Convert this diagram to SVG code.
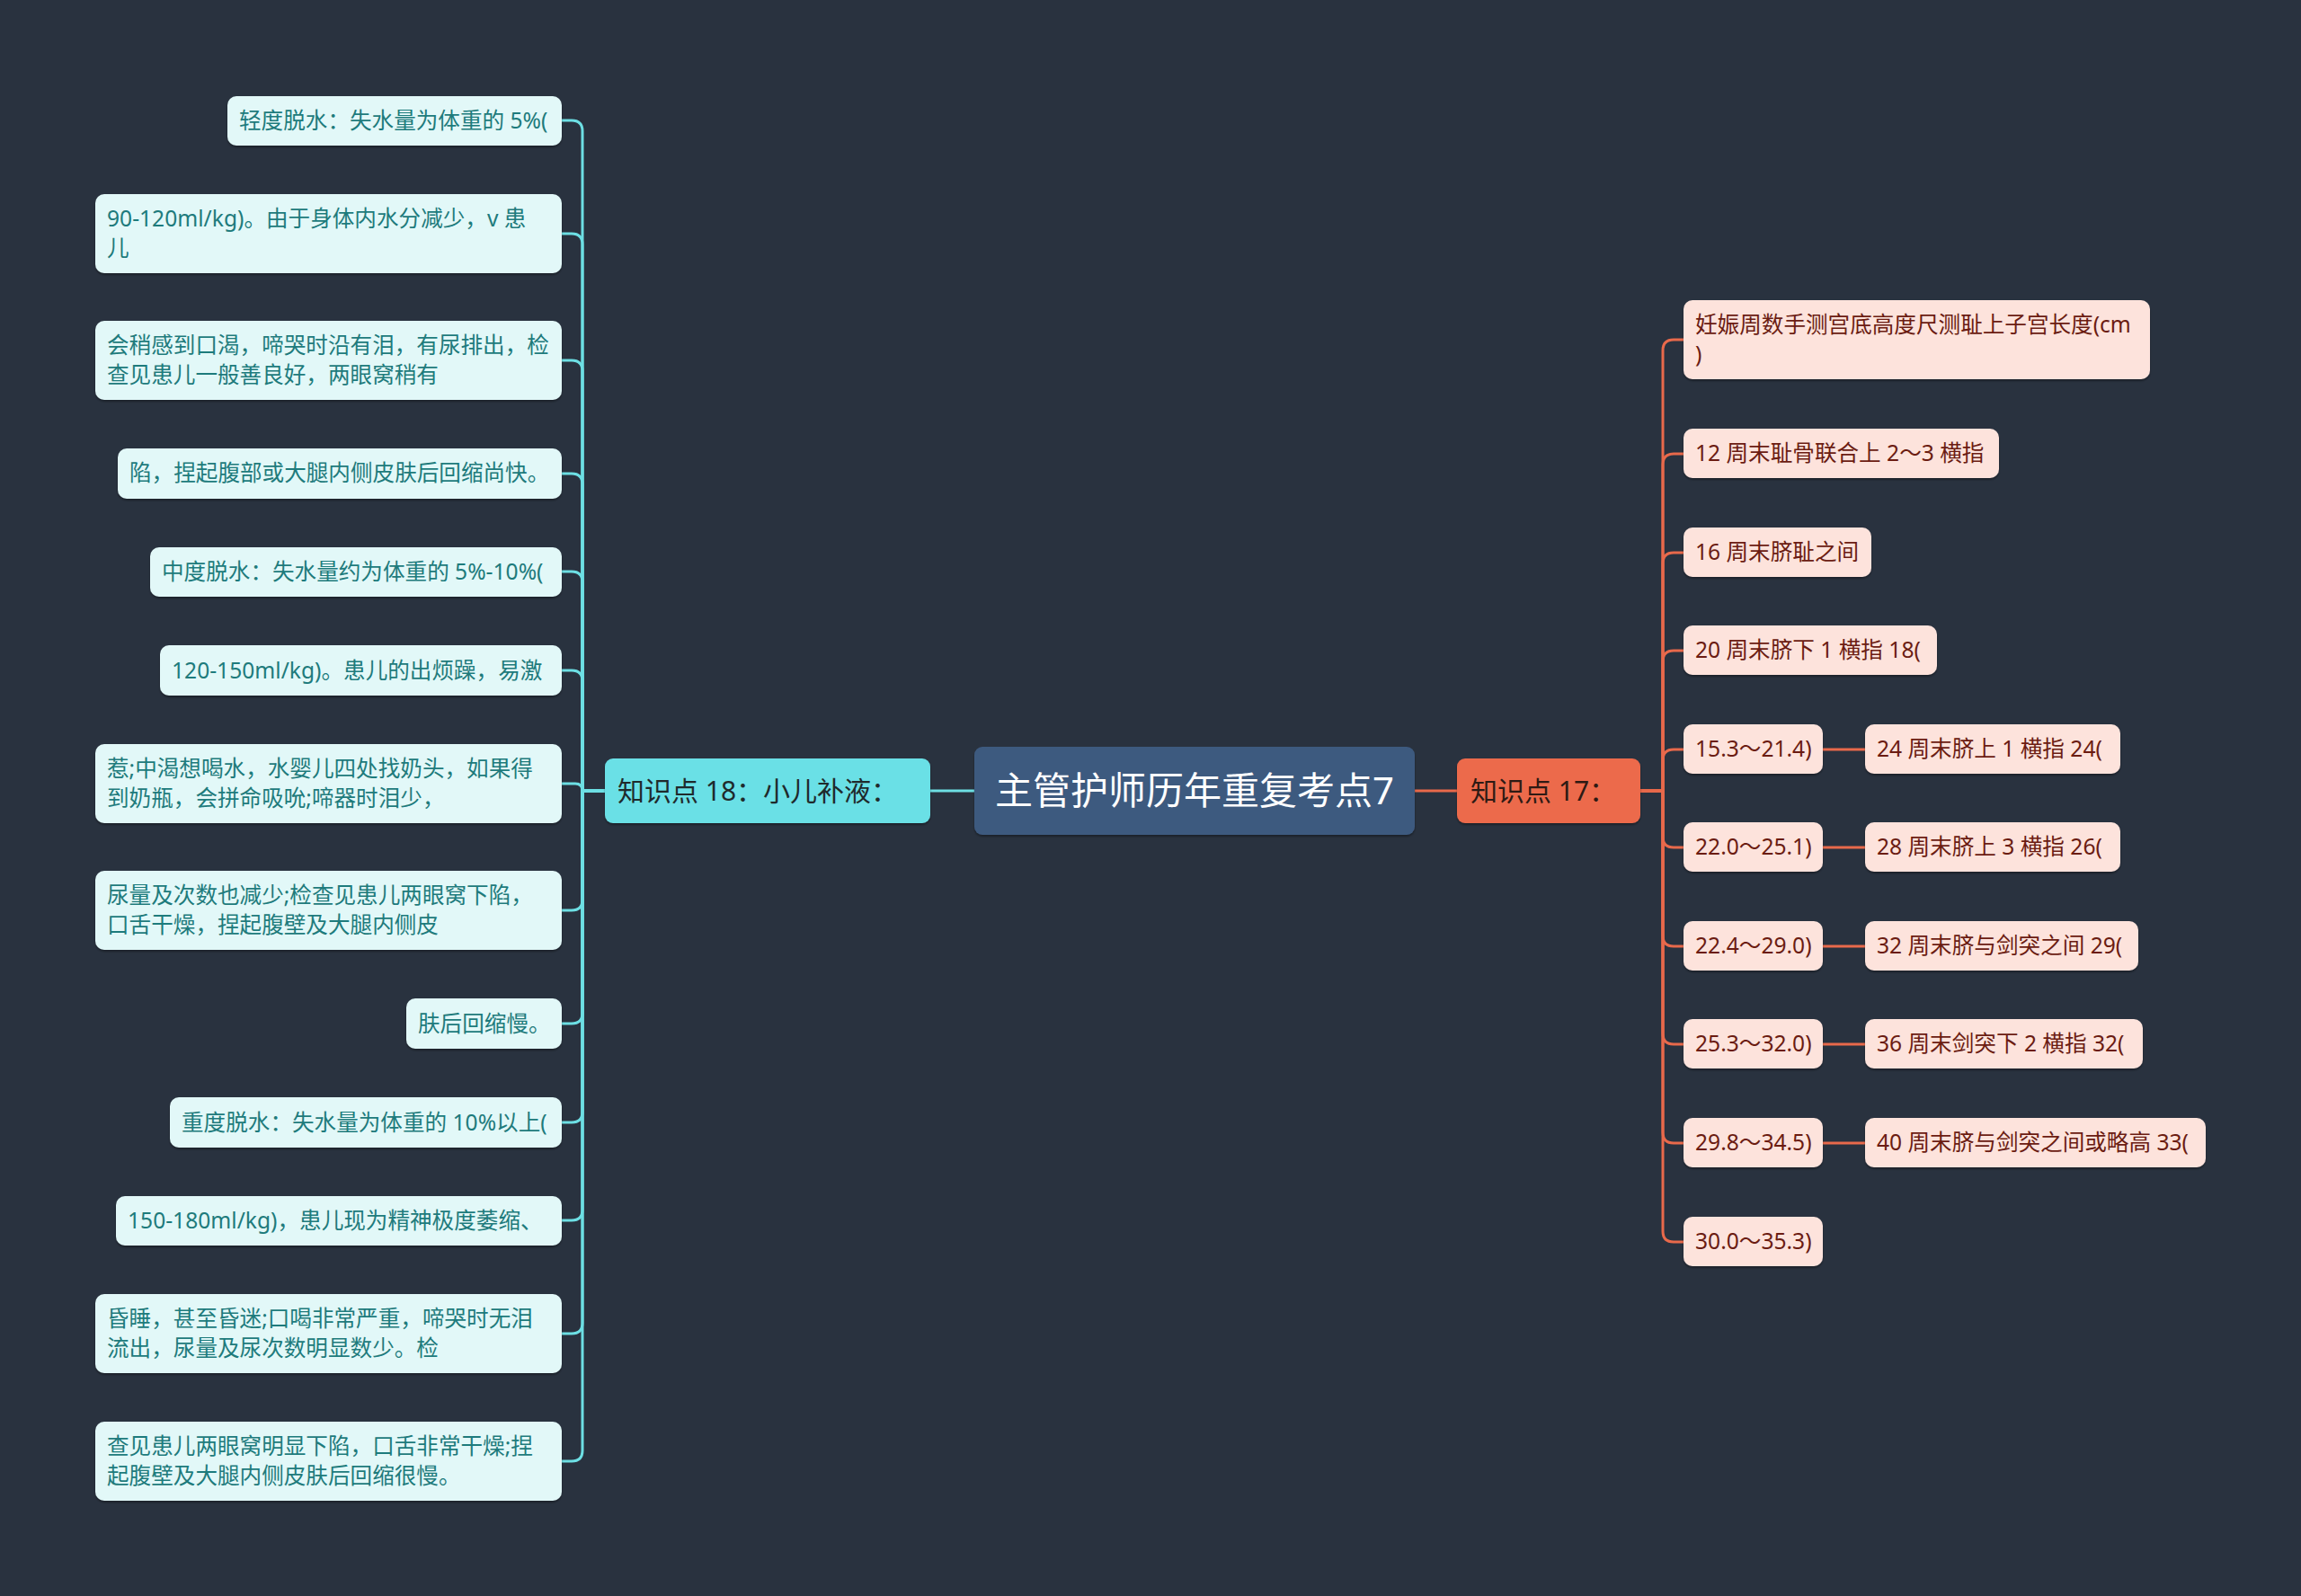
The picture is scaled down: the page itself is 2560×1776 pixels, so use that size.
<svg xmlns="http://www.w3.org/2000/svg" width="2560" height="1776" viewBox="0 0 2560 1776">
<defs>
<filter id="sh" x="-5%" y="-10%" width="110%" height="130%">
<feDropShadow dx="0" dy="2" stdDeviation="1.2" flood-color="#000" flood-opacity="0.35"/>
</filter>
</defs>
<style>
text{font-family:"Noto Sans","Noto Sans CJK SC",sans-serif;}
.lb rect{fill:#e2f8f8;filter:url(#sh);}
.lb text{fill:#1e7b7c;font-size:24.6px;}
.rb rect{fill:#fde3dc;filter:url(#sh);}
.rb text{fill:#6b1c12;font-size:24.6px;}
.cl{fill:none;stroke:#6ddfe4;stroke-width:3;}
.cr{fill:none;stroke:#e8694b;stroke-width:3;}
</style>
<rect width="2560" height="1776" fill="#29323f"/>
<g id="connectors">
<path class="cl" d="M1084 880H1035"/>
<path class="cr" d="M1574 880H1621"/>
<path class="cl" d="M673 880H648V146Q648 134 636 134H625"/>
<path class="cl" d="M673 880H648V272Q648 260 636 260H625"/>
<path class="cl" d="M673 880H648V413Q648 401 636 401H625"/>
<path class="cl" d="M673 880H648V539Q648 527 636 527H625"/>
<path class="cl" d="M673 880H648V648Q648 636 636 636H625"/>
<path class="cl" d="M673 880H648V758Q648 746 636 746H625"/>
<path class="cl" d="M673 880H648Q648 872 640 872H625"/>
<path class="cl" d="M673 880H648V1001Q648 1013 636 1013H625"/>
<path class="cl" d="M673 880H648V1127Q648 1139 636 1139H625"/>
<path class="cl" d="M673 880H648V1237Q648 1249 636 1249H625"/>
<path class="cl" d="M673 880H648V1346Q648 1358 636 1358H625"/>
<path class="cl" d="M673 880H648V1472Q648 1484 636 1484H625"/>
<path class="cl" d="M673 880H648V1614Q648 1626 636 1626H625"/>
<path class="cr" d="M1825 880H1850V390Q1850 378 1862 378H1873"/>
<path class="cr" d="M1825 880H1850V517Q1850 505 1862 505H1873"/>
<path class="cr" d="M1825 880H1850V627Q1850 615 1862 615H1873"/>
<path class="cr" d="M1825 880H1850V736Q1850 724 1862 724H1873"/>
<path class="cr" d="M1825 880H1850V846Q1850 834 1862 834H1873"/>
<path class="cr" d="M1825 880H1850V931Q1850 943 1862 943H1873"/>
<path class="cr" d="M1825 880H1850V1041Q1850 1053 1862 1053H1873"/>
<path class="cr" d="M1825 880H1850V1150Q1850 1162 1862 1162H1873"/>
<path class="cr" d="M1825 880H1850V1260Q1850 1272 1862 1272H1873"/>
<path class="cr" d="M1825 880H1850V1370Q1850 1382 1862 1382H1873"/>
<path class="cr" d="M2028 834H2075"/>
<path class="cr" d="M2028 943H2075"/>
<path class="cr" d="M2028 1053H2075"/>
<path class="cr" d="M2028 1162H2075"/>
<path class="cr" d="M2028 1272H2075"/>
</g>
<g id="root">
<rect x="1084" y="831" width="490" height="98" rx="9" fill="#3e5a7f" filter="url(#sh)"/>
<text x="1329" y="895" font-size="42" fill="#ffffff" text-anchor="middle">主管护师历年重复考点7</text>
</g>
<g id="k18">
<rect x="673" y="844" width="362" height="72" rx="9" fill="#6be0e6" filter="url(#sh)"/>
<text x="687" y="891" font-size="30" fill="#1f2a2c">知识点 18：小儿补液：</text>
</g>
<g id="k17">
<rect x="1621" y="844" width="204" height="72" rx="9" fill="#ec6a4b" filter="url(#sh)"/>
<text x="1636" y="891" font-size="30" fill="#2e1a14">知识点 17：</text>
</g>
<g id="l1" class="lb"><rect x="253" y="107" width="372" height="55" rx="10"/><text x="266" y="143">轻度脱水：失水量为体重的 5%(</text></g>
<g id="l2" class="lb"><rect x="106" y="216" width="519" height="88" rx="10"/><text x="119" y="252">90-120ml/kg)。由于身体内水分减少，v 患</text><text x="119" y="285">儿</text></g>
<g id="l3" class="lb"><rect x="106" y="357" width="519" height="88" rx="10"/><text x="119" y="393">会稍感到口渴，啼哭时沿有泪，有尿排出，检</text><text x="119" y="426">查见患儿一般善良好，两眼窝稍有</text></g>
<g id="l4" class="lb"><rect x="131" y="499" width="494" height="56" rx="10"/><text x="144" y="535">陷，捏起腹部或大腿内侧皮肤后回缩尚快。</text></g>
<g id="l5" class="lb"><rect x="167" y="609" width="458" height="55" rx="10"/><text x="180" y="645">中度脱水：失水量约为体重的 5%-10%(</text></g>
<g id="l6" class="lb"><rect x="178" y="718" width="447" height="56" rx="10"/><text x="191" y="755">120-150ml/kg)。患儿的出烦躁，易激</text></g>
<g id="l7" class="lb"><rect x="106" y="828" width="519" height="88" rx="10"/><text x="119" y="864">惹;中渴想喝水，水婴儿四处找奶头，如果得</text><text x="119" y="897">到奶瓶，会拼命吸吮;啼器时泪少，</text></g>
<g id="l8" class="lb"><rect x="106" y="969" width="519" height="88" rx="10"/><text x="119" y="1005">尿量及次数也减少;检查见患儿两眼窝下陷，</text><text x="119" y="1038">口舌干燥，捏起腹壁及大腿内侧皮</text></g>
<g id="l9" class="lb"><rect x="452" y="1111" width="173" height="56" rx="10"/><text x="465" y="1148">肤后回缩慢。</text></g>
<g id="l10" class="lb"><rect x="189" y="1221" width="436" height="56" rx="10"/><text x="202" y="1258">重度脱水：失水量为体重的 10%以上(</text></g>
<g id="l11" class="lb"><rect x="129" y="1331" width="496" height="55" rx="10"/><text x="142" y="1367">150-180ml/kg)，患儿现为精神极度萎缩、</text></g>
<g id="l12" class="lb"><rect x="106" y="1440" width="519" height="88" rx="10"/><text x="119" y="1476">昏睡，甚至昏迷;口喝非常严重，啼哭时无泪</text><text x="119" y="1509">流出，尿量及尿次数明显数少。检</text></g>
<g id="l13" class="lb"><rect x="106" y="1582" width="519" height="88" rx="10"/><text x="119" y="1618">查见患儿两眼窝明显下陷，口舌非常干燥;捏</text><text x="119" y="1651">起腹壁及大腿内侧皮肤后回缩很慢。</text></g>
<g id="r1" class="rb"><rect x="1873" y="334" width="519" height="88" rx="10"/><text x="1886" y="370">妊娠周数手测宫底高度尺测耻上子宫长度(cm</text><text x="1886" y="403">)</text></g>
<g id="r2" class="rb"><rect x="1873" y="477" width="351" height="55" rx="10"/><text x="1886" y="513">12 周末耻骨联合上 2～3 横指</text></g>
<g id="r3" class="rb"><rect x="1873" y="587" width="209" height="55" rx="10"/><text x="1886" y="623">16 周末脐耻之间</text></g>
<g id="r4" class="rb"><rect x="1873" y="696" width="282" height="55" rx="10"/><text x="1886" y="732">20 周末脐下 1 横指 18(</text></g>
<g id="r5" class="rb"><rect x="1873" y="806" width="155" height="55" rx="10"/><text x="1886" y="842">15.3～21.4)</text></g>
<g id="r5a" class="rb"><rect x="2075" y="806" width="284" height="55" rx="10"/><text x="2088" y="842">24 周末脐上 1 横指 24(</text></g>
<g id="r6" class="rb"><rect x="1873" y="915" width="155" height="55" rx="10"/><text x="1886" y="951">22.0～25.1)</text></g>
<g id="r6a" class="rb"><rect x="2075" y="915" width="284" height="55" rx="10"/><text x="2088" y="951">28 周末脐上 3 横指 26(</text></g>
<g id="r7" class="rb"><rect x="1873" y="1025" width="155" height="55" rx="10"/><text x="1886" y="1061">22.4～29.0)</text></g>
<g id="r7a" class="rb"><rect x="2075" y="1025" width="304" height="55" rx="10"/><text x="2088" y="1061">32 周末脐与剑突之间 29(</text></g>
<g id="r8" class="rb"><rect x="1873" y="1134" width="155" height="55" rx="10"/><text x="1886" y="1170">25.3～32.0)</text></g>
<g id="r8a" class="rb"><rect x="2075" y="1134" width="309" height="55" rx="10"/><text x="2088" y="1170">36 周末剑突下 2 横指 32(</text></g>
<g id="r9" class="rb"><rect x="1873" y="1244" width="155" height="55" rx="10"/><text x="1886" y="1280">29.8～34.5)</text></g>
<g id="r9a" class="rb"><rect x="2075" y="1244" width="379" height="55" rx="10"/><text x="2088" y="1280">40 周末脐与剑突之间或略高 33(</text></g>
<g id="r10" class="rb"><rect x="1873" y="1354" width="155" height="55" rx="10"/><text x="1886" y="1390">30.0～35.3)</text></g>
</svg>
